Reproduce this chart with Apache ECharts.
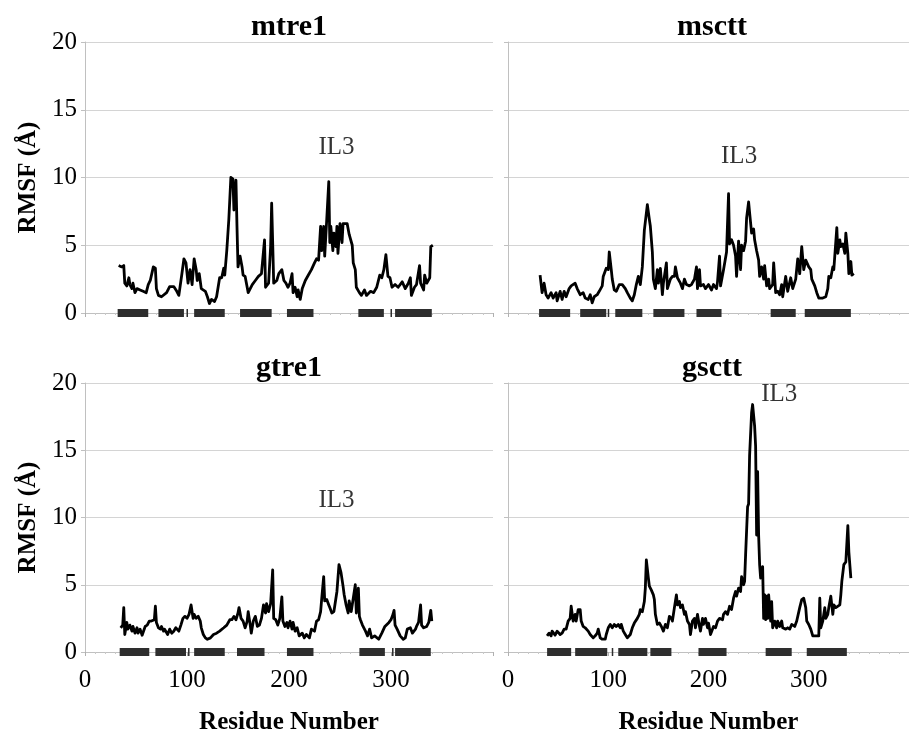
<!DOCTYPE html>
<html>
<head>
<meta charset="utf-8">
<script src="https://cdn.jsdelivr.net/npm/echarts@6/dist/echarts.min.js"></script>
<style>
  html, body { margin: 0; padding: 0; background: #fff; }
  #chart { width: 909px; height: 736px; }
</style>
</head>
<body>
<div id="chart"></div>
<script>
var panelNames = ['mtre1', 'msctt', 'gtre1', 'gsctt'];
var yTicks = [0, 5, 10, 15, 20];
var xTicks = [0, 100, 200, 300, 400];

// RMSF per residue
var mtre1Res = [33,36,38,39,41,43,44,46,47,49,51,54,57,60,62,64,67,69,70,72,75,80,83,87,90,92,95,97,99,101,103,105,107,109,110,112,114,118,120,122,124,127,129,132,134,136,137,139,141,143,145,146,148,149,150,152,154,155,157,159,160,164,167,170,173,176,177,180,182,183,184,185,188,190,193,195,197,199,201,203,204,206,208,209,211,213,216,219,222,225,227,229,231,232,234,235,237,239,240,241,243,244,246,247,248,250,252,253,257,259,262,263,265,266,269,271,274,276,280,283,286,289,291,293,295,297,299,301,304,307,311,314,317,319,320,323,325,328,329,332,333,335,338,339,341];
var mtre1Rmsf = [3.5,3.4,3.5,2.2,2.0,2.6,2.1,1.8,2.2,1.5,1.8,1.7,1.6,1.5,2.1,2.4,3.4,3.3,1.8,1.3,1.2,1.5,1.95,1.95,1.6,1.3,2.9,4.0,3.7,2.2,3.2,2.1,4.0,3.2,2.4,2.9,1.8,1.6,1.2,0.7,1.0,0.85,1.2,2.6,2.6,3.3,2.8,4.6,6.9,10.0,9.9,7.6,9.8,6.4,3.4,4.2,3.4,2.8,2.7,1.9,1.5,2.1,2.4,2.7,2.9,5.4,1.9,2.2,4.9,8.1,5.2,2.2,2.4,2.9,3.2,2.4,2.2,1.9,2.2,2.9,1.5,1.9,1.2,1.7,1.0,1.8,2.4,2.8,3.2,3.7,4.0,3.9,6.4,4.6,6.4,4.2,6.9,9.7,5.2,6.4,4.6,5.9,4.9,6.4,4.4,6.6,5.2,6.6,6.6,5.8,5.0,3.7,3.2,1.9,1.5,1.3,1.7,1.3,1.6,1.5,1.9,2.8,2.6,3.2,4.3,2.7,2.6,1.9,2.1,1.9,2.3,1.8,2.2,2.6,1.3,1.9,2.1,3.5,2.2,1.7,2.8,2.2,2.6,4.9,5.0];

var mscttRes = [32,34,36,38,40,43,45,48,49,52,54,56,58,61,63,67,69,72,75,77,80,82,84,86,89,91,94,95,98,100,101,103,104,106,108,111,114,117,119,122,124,126,128,130,132,134,136,139,141,142,144,145,147,149,150,152,154,155,158,159,162,164,166,167,169,172,174,176,178,181,183,186,188,189,191,192,195,197,200,203,205,208,209,211,212,215,218,220,221,223,225,227,228,230,232,233,235,237,238,240,241,243,245,246,248,250,251,253,255,256,258,260,261,264,265,267,269,271,273,274,277,279,282,284,287,289,291,293,295,297,300,302,303,306,308,310,314,317,319,320,322,324,325,328,329,331,332,334,336,337,339,340,342,343,345];
var mscttRmsf = [2.8,1.5,2.2,1.35,1.1,1.5,1.1,1.5,0.9,1.6,1.0,1.6,1.2,1.8,2.0,2.2,1.8,1.35,1.5,1.1,1.0,1.35,0.75,1.2,1.35,1.6,2.0,2.7,3.3,3.2,4.5,3.2,2.5,1.7,1.6,2.1,2.1,1.8,1.5,1.1,0.9,1.35,2.1,2.7,2.1,3.4,6.1,8.0,6.9,6.4,4.5,2.5,1.8,3.2,2.2,3.3,1.35,2.2,3.7,1.8,2.5,2.7,2.7,3.4,2.6,2.2,1.8,2.5,2.1,2.0,2.1,2.5,3.4,1.8,3.2,2.0,2.1,1.8,2.1,1.7,2.1,1.8,2.3,4.2,2.0,3.2,4.5,8.8,5.1,5.4,5.0,4.2,2.7,5.3,3.2,5.0,4.6,5.3,7.0,8.2,7.4,5.9,6.2,5.4,4.6,3.9,2.7,3.4,2.5,3.5,2.0,2.5,1.8,2.1,3.7,1.5,1.6,1.35,2.1,1.2,2.7,1.6,2.6,1.8,2.5,4.0,2.9,4.9,3.2,3.9,3.4,3.2,2.5,2.0,1.5,1.1,1.1,1.2,1.8,2.7,2.6,3.4,3.2,6.3,4.4,5.4,4.9,5.1,4.4,5.9,4.4,2.9,3.8,2.8,2.9];

var gtre1Res = [35,37,38,39,41,42,44,46,47,49,51,52,54,56,59,61,63,65,68,69,70,72,74,75,77,78,81,83,85,87,89,92,94,96,98,100,102,104,106,107,109,111,113,114,116,118,120,123,126,129,132,136,139,142,144,146,148,150,151,153,155,157,159,160,162,163,165,167,169,171,173,175,177,178,180,182,184,185,187,189,191,193,194,196,198,199,201,203,204,206,208,210,213,215,217,220,222,225,227,229,231,232,234,235,237,239,240,242,244,245,247,249,251,253,254,256,258,259,261,263,264,265,266,268,269,270,272,275,277,279,281,284,288,291,294,298,300,302,303,304,306,309,312,314,316,319,321,324,325,327,329,330,332,333,335,337,339,340];
var gtre1Rmsf = [1.8,2.0,3.3,1.3,2.2,1.7,2.0,1.55,1.9,1.4,1.8,1.4,1.7,1.25,1.9,2.0,2.3,2.3,2.4,3.4,2.2,1.8,1.7,1.9,1.55,1.7,1.3,1.7,1.4,1.55,1.8,1.55,2.0,2.5,2.65,2.5,2.8,3.5,2.5,2.8,2.5,2.65,2.3,1.8,1.3,1.05,0.95,1.05,1.3,1.4,1.55,1.8,2.0,2.4,2.4,2.65,2.4,2.9,3.3,2.5,2.3,1.8,2.3,3.0,2.0,1.4,2.3,2.65,1.9,2.0,2.5,3.5,2.9,3.6,3.0,3.6,6.1,2.5,2.4,2.0,2.5,4.1,2.3,1.9,2.2,1.8,2.3,1.7,2.2,1.55,1.8,1.2,1.4,1.05,1.3,1.05,1.7,1.55,2.3,2.4,3.0,3.9,5.6,3.8,3.9,3.5,3.3,2.9,3.0,3.5,4.5,6.5,5.9,4.9,4.3,3.5,2.9,3.8,3.0,4.0,4.5,5.0,2.9,4.75,2.65,2.4,2.0,1.55,1.2,1.7,1.05,1.2,0.95,1.4,1.9,2.2,2.4,2.8,3.1,2.0,1.7,1.2,0.95,1.05,1.7,1.8,1.4,1.7,1.9,2.2,3.5,2.0,1.8,1.7,1.9,2.2,3.1,2.3];

var gscttRes = [39,41,43,44,47,49,52,54,56,58,60,62,63,65,67,68,70,72,73,75,77,80,82,85,87,89,90,92,94,97,98,100,102,104,106,108,110,112,113,115,117,119,122,124,126,129,131,132,134,136,137,138,140,141,143,145,146,147,149,151,153,155,157,159,161,163,164,166,168,169,171,172,174,176,177,179,181,182,184,186,187,189,191,192,194,195,197,199,200,202,205,207,209,211,214,215,217,219,221,223,225,227,228,230,232,233,235,236,237,239,240,241,243,244,245,246,247,248,249,250,251,252,254,255,256,257,258,259,260,262,263,264,266,268,269,271,273,274,277,279,281,283,286,288,291,293,295,297,298,300,302,304,307,310,311,312,314,316,317,319,320,322,324,325,327,328,331,332,333,335,337,339,340,342];
var gscttRmsf = [1.2,1.4,1.2,1.55,1.25,1.55,1.3,1.4,1.7,1.7,2.3,2.5,3.4,2.3,2.8,2.3,3.15,3.15,2.3,1.9,1.8,1.55,1.3,1.05,1.2,1.4,1.7,1.05,0.95,0.95,1.3,1.8,2.05,1.8,2.05,1.9,2.05,1.8,2.05,1.55,1.3,1.05,1.3,1.8,2.15,2.5,2.8,3.15,3.0,3.75,4.75,6.85,5.5,4.9,4.6,4.25,3.9,2.8,2.05,2.15,1.9,1.55,2.05,1.8,2.65,2.5,2.3,3.3,4.25,3.5,3.75,3.3,3.5,2.8,3.0,2.3,2.05,1.3,2.3,2.5,1.8,2.8,1.9,1.55,2.5,2.05,2.5,1.8,2.15,1.3,1.9,1.8,2.3,2.5,2.4,2.8,3.0,2.8,3.4,3.15,4.0,4.5,4.15,4.75,4.5,5.6,5.0,5.25,7.2,10.8,11.0,14.6,17.8,18.4,18.3,16.8,15.3,8.7,13.4,8.7,6.5,5.5,6.35,2.5,4.25,2.4,4.15,2.5,4.25,2.3,3.75,1.8,2.3,1.8,2.3,1.9,2.3,1.8,1.7,1.8,1.7,2.05,1.9,2.3,3.3,3.9,4.0,3.3,2.3,2.05,1.7,1.2,1.2,1.2,4.0,1.8,2.3,3.3,2.5,2.8,3.3,4.15,2.8,3.5,3.3,3.3,3.5,4.25,5.25,6.5,6.7,9.4,7.45,5.5];

// transmembrane helix spans [start, end] drawn on the zero line
var mtre1Helix = [[32,62],[72,97],[99.5,101],[107,137],[152,183],[198,224],[268,293],[299.5,301],[304,340]];
var mscttHelix = [[31,62],[72,98],[99.5,101],[107,134],[145,176],[188,213],[262,287],[296,342]];
var gtre1Helix = [[34,63],[69,99],[101,102.5],[107,137],[149,176],[198,224],[269,294],[301,302.5],[304,339]];
var gscttHelix = [[39,63],[67,99],[103.5,105],[110,139],[142,163],[190,218],[257,283],[298,338]];

// IL3 label anchor [residue, rmsf]
var il3Pos = [[247, 12.2], [231, 11.5], [247, 11.2], [271, 19.1]];

var resList = [mtre1Res, mscttRes, gtre1Res, gscttRes];
var rmsfList = [mtre1Rmsf, mscttRmsf, gtre1Rmsf, gscttRmsf];
var helixList = [mtre1Helix, mscttHelix, gtre1Helix, gscttHelix];

var serif = 'Liberation Serif';
var gridPos = [
  {left: 85, top: 42, width: 408, height: 271},
  {left: 508, top: 42, width: 406, height: 271},
  {left: 85, top: 383, width: 408, height: 271},
  {left: 508, top: 383, width: 406, height: 271}
];
var titleX = [284, 707, 284, 707];
var titleY = [7, 7, 348, 348];

function renderHelix(params, api) {
  var s = api.coord([api.value(0), 0]);
  var e = api.coord([api.value(1), 0]);
  return {
    type: 'rect',
    shape: {x: s[0], y: s[1] - 4, width: e[0] - s[0], height: 8},
    style: {fill: '#2e2e2e'}
  };
}

var myChart = echarts.init(document.getElementById('chart'));
var grids = [], xAxes = [], yAxes = [], titles = [], series = [];

panelNames.forEach(function (name, i) {
  var isLeft = (i % 2 === 0);
  var isBottom = (i >= 2);
  grids.push(gridPos[i]);
  titles.push({
    text: name,
    left: titleX[i],
    top: titleY[i],
    textAlign: 'center',
    textStyle: {fontFamily: serif, fontWeight: 'bold', fontSize: 30, color: '#000'}
  });
  xAxes.push({
    type: 'value', gridIndex: i,
    min: xTicks[0], max: xTicks[xTicks.length - 1], interval: 100,
    name: isBottom ? 'Residue Number' : '',
    nameLocation: 'middle', nameGap: 58,
    nameTextStyle: {fontFamily: serif, fontWeight: 'bold', fontSize: 25, color: '#000'},
    axisLine: {show: true, lineStyle: {color: '#c0c0c0', width: 1}},
    axisTick: {show: true, length: 4, lineStyle: {color: '#b0b0b0'}},
    minorTick: {show: true, splitNumber: 10, length: 2, lineStyle: {color: '#c8c8c8'}},
    splitLine: {show: false},
    axisLabel: {
      show: isBottom, showMaxLabel: false, margin: 16,
      fontFamily: serif, fontSize: 25, color: '#000'
    }
  });
  yAxes.push({
    type: 'value', gridIndex: i,
    min: yTicks[0], max: yTicks[yTicks.length - 1], interval: 5,
    name: isLeft ? 'RMSF (Å)' : '',
    nameLocation: 'middle', nameGap: 44,
    nameTextStyle: {fontFamily: serif, fontWeight: 'bold', fontSize: 25, color: '#000'},
    axisLine: {show: true, lineStyle: {color: '#c0c0c0', width: 1}},
    axisTick: {show: true, length: 4, lineStyle: {color: '#c0c0c0'}},
    splitLine: {show: true, lineStyle: {color: '#d4d4d4', width: 1}},
    axisLabel: {show: isLeft, margin: 8, fontFamily: serif, fontSize: 25, color: '#000'}
  });

  var pts = resList[i].map(function (r, k) { return [r, rmsfList[i][k]]; });
  series.push({
    type: 'line', xAxisIndex: i, yAxisIndex: i,
    data: pts, showSymbol: false, symbol: 'none', clip: false,
    lineStyle: {color: '#000', width: 2.8, join: 'round'},
    z: 3
  });
  series.push({
    type: 'custom', xAxisIndex: i, yAxisIndex: i,
    data: helixList[i], encode: {x: [0, 1]},
    renderItem: renderHelix, clip: false, z: 4
  });
  series.push({
    type: 'scatter', xAxisIndex: i, yAxisIndex: i,
    data: [il3Pos[i]], symbolSize: 1,
    itemStyle: {color: 'rgba(0,0,0,0)'},
    label: {
      show: true, position: [0, 0], align: 'center', verticalAlign: 'middle',
      formatter: 'IL3', fontFamily: serif, fontSize: 25, color: '#000'
    },
    z: 5
  });
});

var option = {
  backgroundColor: '#fff',
  animation: false,
  title: titles,
  grid: grids,
  xAxis: xAxes,
  yAxis: yAxes,
  series: series
};
myChart.setOption(option);
window.addEventListener('resize', function () {
  myChart.resize();
});
</script>
</body>
</html>
